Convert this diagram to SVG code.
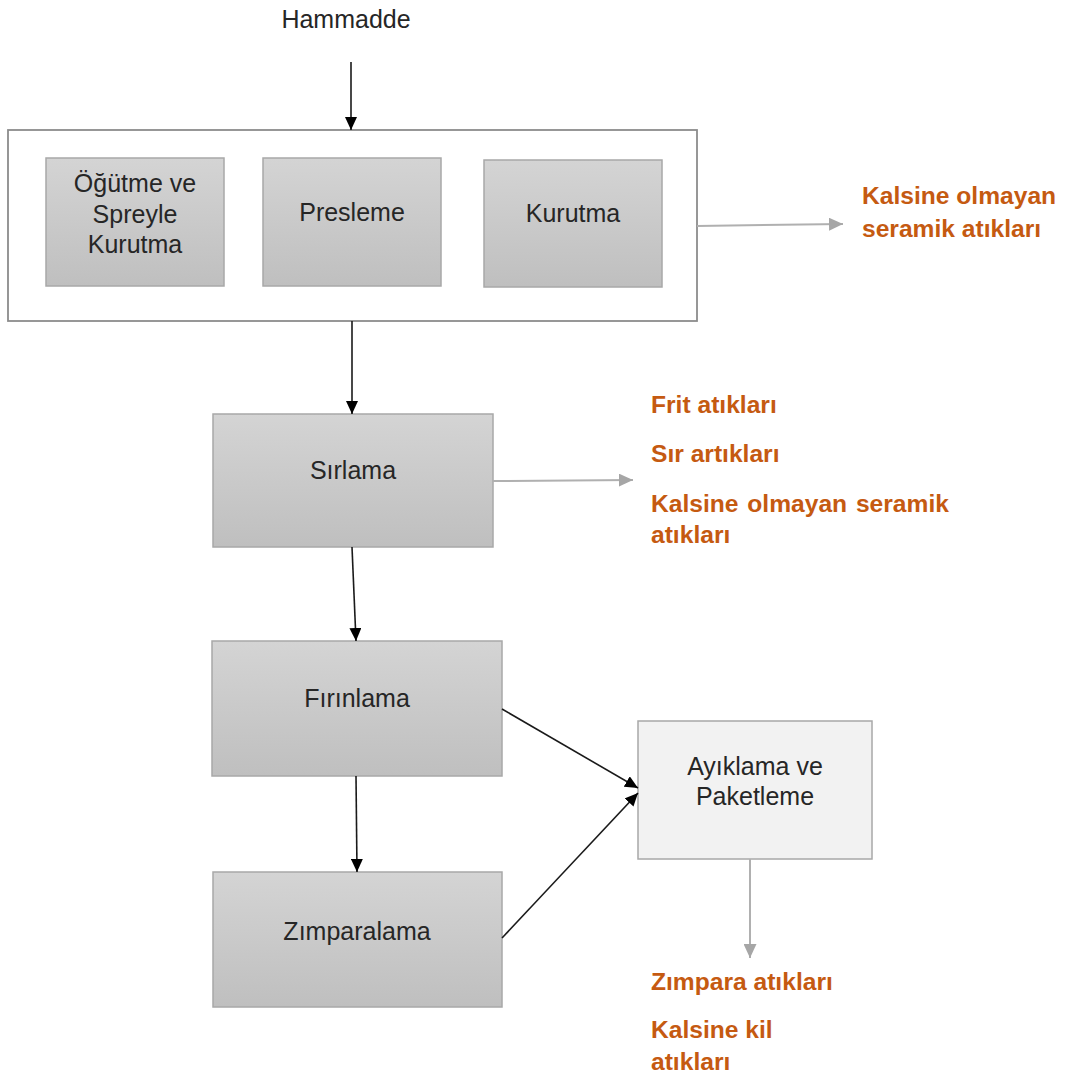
<svg xmlns="http://www.w3.org/2000/svg" width="1068" height="1076" viewBox="0 0 1068 1076">
  <style>
    .step { fill: url(#stepFill); stroke: #a8a8a8; stroke-width: 1.5; }
    .frame { fill: #ffffff; stroke: #8c8c8c; stroke-width: 1.8; }
    .light { fill: #f2f2f2; stroke: #a8a8a8; stroke-width: 1.5; }
    .lbl { font-family: "Liberation Sans", Arial, sans-serif; font-size: 25px; fill: #262626; text-anchor: middle; }
    .waste { font-family: "Liberation Sans", Arial, sans-serif; font-size: 24.6px; font-weight: bold; fill: #C55A11; }
    .flow { stroke: #1a1a1a; stroke-width: 1.6; fill: none; marker-end: url(#headDark); }
    .out { stroke: #b0b0b0; stroke-width: 2; fill: none; marker-end: url(#headGray); }
  </style>
  <defs>
    <linearGradient id="stepFill" x1="0" y1="0" x2="0" y2="1">
      <stop offset="0" stop-color="#d4d4d4"/>
      <stop offset="1" stop-color="#bfbfbf"/>
    </linearGradient>
    <marker id="headDark" markerUnits="userSpaceOnUse" markerWidth="13" markerHeight="12" refX="13" refY="6" orient="auto">
      <path d="M0,0 L13,6 L0,12 z" fill="#000000"/>
    </marker>
    <marker id="headGray" markerUnits="userSpaceOnUse" markerWidth="14" markerHeight="13" refX="14" refY="6.5" orient="auto">
      <path d="M0,0 L14,6.5 L0,13 z" fill="#a6a6a6"/>
    </marker>
  </defs>

  <!-- raw material input -->
  <g id="hammadde">
    <text class="lbl" x="346" y="28">Hammadde</text>
  </g>

  <!-- shaping stage frame with its three sub-steps -->
  <g id="sekillendirme">
    <rect class="frame" x="8" y="130" width="689" height="191"/>
  </g>
  <g id="ogutme">
    <rect class="step" x="46" y="158" width="178" height="128"/>
    <text class="lbl" x="135" y="192">Öğütme ve</text>
    <text class="lbl" x="135" y="223">Spreyle</text>
    <text class="lbl" x="135" y="253">Kurutma</text>
  </g>
  <g id="presleme">
    <rect class="step" x="263" y="158" width="178" height="128"/>
    <text class="lbl" x="352" y="221">Presleme</text>
  </g>
  <g id="kurutma">
    <rect class="step" x="484" y="160" width="178" height="127"/>
    <text class="lbl" x="573" y="222">Kurutma</text>
  </g>

  <g id="sirlama">
    <rect class="step" x="213" y="414" width="280" height="133"/>
    <text class="lbl" x="353" y="479">Sırlama</text>
  </g>
  <g id="firinlama">
    <rect class="step" x="212" y="641" width="290" height="135"/>
    <text class="lbl" x="357" y="707">Fırınlama</text>
  </g>
  <g id="zimparalama">
    <rect class="step" x="213" y="872" width="289" height="135"/>
    <text class="lbl" x="357" y="940">Zımparalama</text>
  </g>
  <g id="ayiklama">
    <rect class="light" x="638" y="721" width="234" height="138"/>
    <text class="lbl" x="755" y="775">Ayıklama ve</text>
    <text class="lbl" x="755" y="805">Paketleme</text>
  </g>

  <!-- waste outputs -->
  <g id="atik-sekillendirme">
    <text class="waste" x="862" y="204">Kalsine olmayan</text>
    <text class="waste" x="862" y="237">seramik atıkları</text>
  </g>
  <g id="atik-sirlama">
    <text class="waste" x="651" y="413">Frit atıkları</text>
    <text class="waste" x="651" y="462">Sır artıkları</text>
    <text class="waste" x="651" y="512" word-spacing="2">Kalsine olmayan seramik</text>
    <text class="waste" x="651" y="543">atıkları</text>
  </g>
  <g id="atik-ayiklama">
    <text class="waste" x="651" y="990">Zımpara atıkları</text>
    <text class="waste" x="651" y="1038">Kalsine kil</text>
    <text class="waste" x="651" y="1070">atıkları</text>
  </g>

  <!-- connectors -->
  <g id="connectors">
    <line class="flow" x1="351" y1="62" x2="351" y2="130"/>
    <line class="flow" x1="352" y1="321" x2="352" y2="414"/>
    <line class="flow" x1="352" y1="547" x2="356" y2="641"/>
    <line class="flow" x1="356" y1="776" x2="357" y2="872"/>
    <line class="flow" x1="502" y1="709" x2="638" y2="788"/>
    <line class="flow" x1="502" y1="938" x2="638" y2="793"/>
    <line class="out" x1="697" y1="226" x2="843" y2="224"/>
    <line class="out" x1="493" y1="481" x2="633" y2="480"/>
    <line class="out" x1="750" y1="859" x2="750" y2="958"/>
  </g>
</svg>
